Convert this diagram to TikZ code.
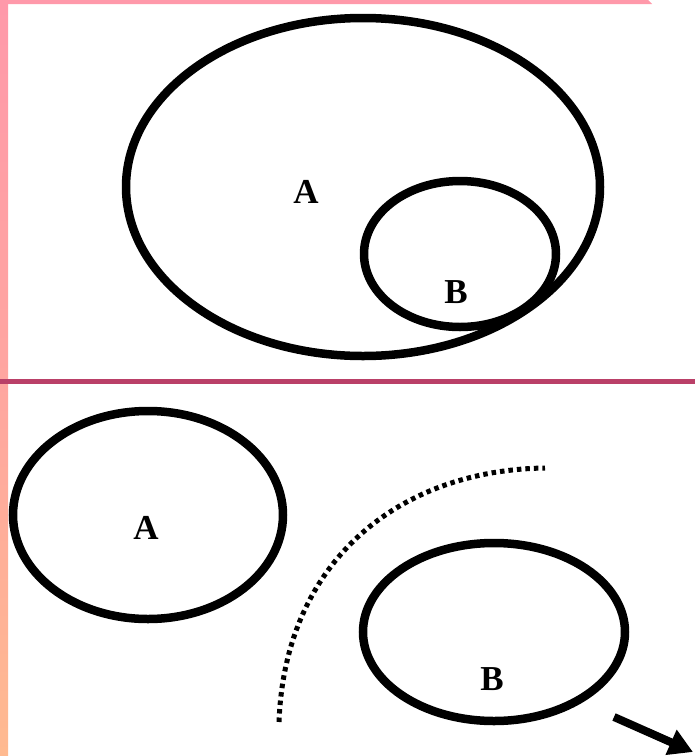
\documentclass[tikz,border=0pt]{standalone}
\usepackage{fontspec}
\setmainfont{Liberation Serif}
\usetikzlibrary{arrows.meta}
\definecolor{barpinktop}{HTML}{FF99AA}
\definecolor{barpinkmid}{HTML}{FFA6A0}
\definecolor{barorange}{HTML}{FFBA90}
\definecolor{divider}{HTML}{BA4068}
\begin{document}
\begin{tikzpicture}[x=1pt,y=-1pt,
  ring/.style={draw=black,line width=8.5pt},
  lbl/.style={font=\bfseries\fontsize{35}{35}\selectfont,inner sep=0pt},
  dotarc/.style={draw=black,line width=5pt,dash pattern=on 4.5pt off 4pt},
  bigarrow/.style={draw=black,line width=8pt,-{Triangle[length=24pt,width=26pt]}}]
\useasboundingbox (0,0) rectangle (695,756);
\fill[white] (0,0) rectangle (695,756);
% borders
\shade[top color=barpinktop,bottom color=barpinkmid] (0,0) rectangle (8,382);
\shade[top color=barpinkmid,bottom color=barorange] (0,382) rectangle (8,756);
\fill[barpinktop] (0,0) -- (648,0) -- (652,4) -- (0,4) -- cycle;
\fill[divider] (0,379) rectangle (695,384);
% top
\draw[ring] (363,187) ellipse [x radius=237,y radius=169];
\draw[ring] (460,254) ellipse [x radius=96,y radius=73];
\node[lbl] (tA) at (306,192) {A};
\node[lbl] (tB) at (456,292) {B};
% bottom
\draw[ring] (148,515) ellipse [x radius=135,y radius=104];
\draw[ring] (494,632) ellipse [x radius=131,y radius=89];
\node[lbl] (bA) at (146,528) {A};
\node[lbl] (bB) at (492,679) {B};
\coordinate (arcS) at (279,722);
\coordinate (arcE) at (545,468);
\draw[dotarc] (arcS) .. controls (285,560) and (400,470) .. (arcE);
\coordinate (arS) at (614,717);
\coordinate (arE) at (693,752);
\draw[bigarrow] (arS) -- (arE);
\end{tikzpicture}
\end{document}
